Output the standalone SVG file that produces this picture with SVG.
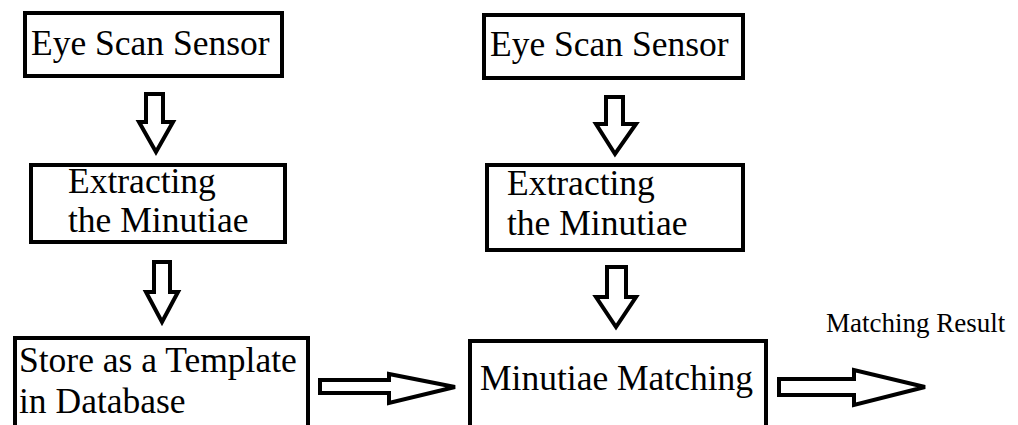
<svg xmlns="http://www.w3.org/2000/svg" width="1018" height="425" viewBox="0 0 1018 425">
  <style>
    .box { fill: #fff; stroke: #000; stroke-width: 4; }
    .arrow { fill: #fff; stroke: #000; stroke-width: 4; stroke-linejoin: miter; }
    .label { font-family: "Liberation Serif", "Times New Roman", serif; font-size: 35.5px; fill: #000; }
    .small { font-family: "Liberation Serif", "Times New Roman", serif; font-size: 27px; fill: #000; }
  </style>
  <rect width="1018" height="425" fill="#fff"/>

  <!-- enrolment column -->
  <g id="enrol-sensor">
    <rect class="box" x="25" y="13" width="257" height="63"/>
    <text class="label" x="31" y="55">Eye Scan Sensor</text>
  </g>
  <g id="enrol-extract">
    <rect class="box" x="31" y="165" width="254" height="77"/>
    <text class="label" x="68" y="193">Extracting</text>
    <text class="label" x="68" y="232">the Minutiae</text>
  </g>
  <g id="enrol-store">
    <rect class="box" x="15" y="338" width="293" height="100"/>
    <text class="label" x="19" y="372">Store as a Template</text>
    <text class="label" x="19" y="413">in Database</text>
  </g>

  <!-- verification column -->
  <g id="verify-sensor">
    <rect class="box" x="484" y="15" width="259" height="63"/>
    <text class="label" x="490" y="56">Eye Scan Sensor</text>
  </g>
  <g id="verify-extract">
    <rect class="box" x="487" y="165" width="256" height="85"/>
    <text class="label" x="507" y="195">Extracting</text>
    <text class="label" x="507" y="235">the Minutiae</text>
  </g>
  <g id="matching">
    <rect class="box" x="470" y="341" width="296" height="100"/>
    <text class="label" x="480" y="390">Minutiae Matching</text>
  </g>

  <g id="result-label">
    <text class="small" x="826" y="332">Matching Result</text>
  </g>

  <!-- block arrows -->
  <g id="connectors">
    <polygon class="arrow" points="146,94 163,94 163,122 173,122 156,152 139,122 146,122"/>
    <polygon class="arrow" points="154,262 170,262 170,292 178,292 162,322 146,292 154,292"/>
    <polygon class="arrow" points="606,97 623,97 623,124 636,124 615,154 596,124 606,124"/>
    <polygon class="arrow" points="607,267 626,267 626,297 636,297 616,327 596,297 607,297"/>
    <polygon class="arrow" points="320,380 389,380 389,374 455,387 389,403 389,393 320,393"/>
    <polygon class="arrow" points="779,379 854,379 854,370 925,387 854,405 854,395 779,395"/>
  </g>
</svg>
